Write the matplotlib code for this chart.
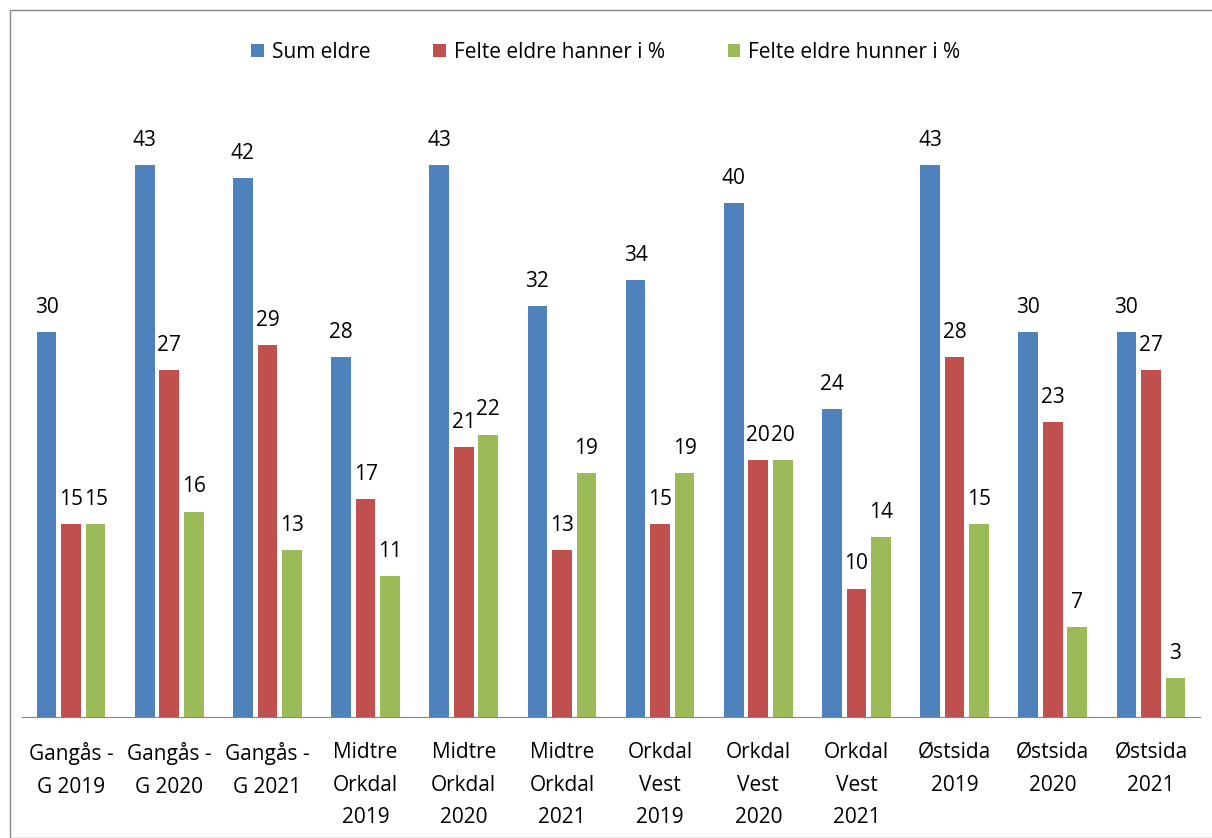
import numpy as np
import matplotlib
matplotlib.use("Agg")
import matplotlib.pyplot as plt
from matplotlib.patches import Rectangle

categories = ["Gangås -\nG 2019", "Gangås -\nG 2020", "Gangås -\nG 2021",
              "Midtre\nOrkdal\n2019", "Midtre\nOrkdal\n2020", "Midtre\nOrkdal\n2021",
              "Orkdal\nVest\n2019", "Orkdal\nVest\n2020", "Orkdal\nVest\n2021",
              "Østsida\n2019", "Østsida\n2020", "Østsida\n2021"]
sum_eldre = [30, 43, 42, 28, 43, 32, 34, 40, 24, 43, 30, 30]
hanner = [15, 27, 29, 17, 21, 13, 15, 20, 10, 28, 23, 27]
hunner = [15, 16, 13, 11, 22, 19, 19, 20, 14, 15, 7, 3]
series_names = ["Sum eldre", "Felte eldre hanner i %", "Felte eldre hunner i %"]
colors = ["#4F81BD", "#C0504D", "#9BBB59"]

plt.rcParams['font.family'] = ['Open Sans', 'DejaVu Sans']

fig = plt.figure(figsize=(12.12, 8.38), dpi=100)
ax = fig.add_axes([22/1212, 1 - 717/838, 1178/1212, (717 - 75)/838])

x = np.arange(len(categories))
w = 0.2
offsets = [-0.25, 0.0, 0.25]
for vals, off, c, name in zip([sum_eldre, hanner, hunner], offsets, colors, series_names):
    bars = ax.bar(x + off, vals, w, color=c, label=name)
    for b, v in zip(bars, vals):
        ax.text(b.get_x() + b.get_width() / 2, v + 1.1, str(v), ha="center", va="bottom",
                fontsize=15)

ax.set_xlim(-0.5, len(categories) - 0.5)
ax.set_ylim(0, 50)
ax.set_xticks(x)
ax.set_xticklabels(categories, fontsize=15, linespacing=1.72)
ax.tick_params(axis="x", length=0, pad=18)
ax.set_yticks([])
for s in ["top", "right", "left"]:
    ax.spines[s].set_visible(False)
ax.spines["bottom"].set_color("#868686")

leg = fig.legend(loc="upper center", bbox_to_anchor=(0.5, 1 - 23/838), ncol=3, frameon=False,
                 fontsize=15, handlelength=0.6, handleheight=0.6, columnspacing=3.0,
                 handletextpad=0.4)

fig.patches.append(Rectangle((10/1212, 0), 1.0, 1 - 10/838, transform=fig.transFigure,
                             fill=False, edgecolor="#868686", linewidth=1))

fig.savefig("out.png", dpi=100)
